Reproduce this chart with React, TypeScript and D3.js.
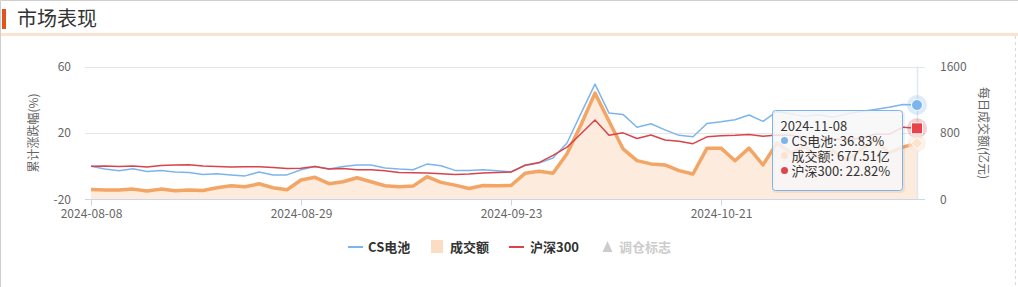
import React from "react";
import * as d3 from "d3";

const dates = [
  "2024-08-08","2024-08-09","2024-08-12","2024-08-13","2024-08-14","2024-08-15","2024-08-16","2024-08-19","2024-08-20","2024-08-21",
  "2024-08-22","2024-08-23","2024-08-26","2024-08-27","2024-08-28","2024-08-29","2024-08-30","2024-09-02","2024-09-03","2024-09-04",
  "2024-09-05","2024-09-06","2024-09-09","2024-09-10","2024-09-11","2024-09-12","2024-09-13","2024-09-18","2024-09-19","2024-09-20",
  "2024-09-23","2024-09-24","2024-09-25","2024-09-26","2024-09-27","2024-09-30","2024-10-08","2024-10-09","2024-10-10","2024-10-11",
  "2024-10-14","2024-10-15","2024-10-16","2024-10-17","2024-10-18","2024-10-21","2024-10-22","2024-10-23","2024-10-24","2024-10-25",
  "2024-10-28","2024-10-29","2024-10-30","2024-10-31","2024-11-01","2024-11-04","2024-11-05","2024-11-06","2024-11-07","2024-11-08",
];

// CS电池 cumulative change (%)
const battery = [
  0, -1.7, -2.7, -1.5, -3.1, -2.5, -3.5, -3.7, -5.0, -4.5,
  -5.2, -5.8, -3.5, -5.2, -5.2, -2.1, -0.1, -1.7, -0.1, 0.7,
  0.7, -1.1, -1.7, -2.1, 1.3, 0.3, -2.5, -2.5, -2.1, -2.7,
  -3.3, 0.5, 1.9, 5.0, 14.0, 31.8, 49.4, 32.0, 31.2, 23.5,
  25.6, 21.9, 18.6, 17.7, 25.7, 26.7, 28.0, 30.8, 27.0, 33.0,
  31.5, 30.0, 31.0, 29.5, 31.5, 33.0, 34.2, 35.5, 37.2, 36.83,
];

// 沪深300 cumulative change (%)
const hs300 = [
  0, 0.1, -0.1, 0.1, -0.5, 0.5, 0.7, 0.9, 0.1, -0.1,
  -0.5, -0.3, -0.3, -0.7, -1.3, -1.2, -0.2, -1.7, -1.3, -2.1,
  -2.1, -2.7, -3.7, -3.9, -4.1, -4.5, -4.9, -4.7, -4.1, -3.7,
  -3.5, 0.6, 2.2, 6.5, 11.5, 19.5, 27.8, 18.7, 20.1, 16.7,
  18.8, 15.8, 15.1, 13.6, 17.7, 18.3, 18.6, 19.1, 18.1, 18.8,
  18.6, 17.4, 16.6, 16.5, 16.0, 17.0, 19.3, 19.2, 23.5, 22.82,
];

// 成交额 (亿元)
const volume = [
  121, 113, 113, 125, 101, 125, 105, 113, 109, 141,
  165, 153, 189, 141, 117, 234, 267, 190, 214, 262,
  214, 165, 153, 161, 274, 206, 173, 133, 169, 165,
  168, 315, 340, 315, 550, 900, 1280, 941, 610, 468,
  428, 416, 347, 307, 618, 618, 466, 618, 416, 680,
  560, 640, 500, 590, 470, 600, 720, 560, 630, 677.51,
];

const xTickLabels = ["2024-08-08", "2024-08-29", "2024-09-23", "2024-10-21"];
const leftTicks = [-20, 20, 60];
const rightTicks = [0, 800, 1600];
const seriesNames = ["CS电池", "成交额", "沪深300", "调仓标志"];

const FONT = "'Noto Sans CJK SC', 'Microsoft YaHei', 'Noto Sans', sans-serif";
const BLUE = "#7cb5ec";
const RED = "#d9434b";
const ORANGE = "#f2a564";
const PEACH = "#fde7d8";

export default function App() {
  const W = 1018, H = 287;
  const plotL = 85, plotR = 925, plotT = 66.5, plotB = 199.5;

  const x = d3.scalePoint<string>().domain(dates).range([91, 917]);
  const yL = d3.scaleLinear().domain([-20, 60]).range([plotB, plotT]);
  const yR = d3.scaleLinear().domain([0, 1600]).range([plotB, plotT]);

  const idx = dates.map((_, i) => i);
  const lineL = (arr: number[]) =>
    d3.line<number>().x((i) => x(dates[i]) as number).y((i) => yL(arr[i]))(idx) || "";
  const volLine = d3.line<number>().x((i) => x(dates[i]) as number).y((i) => yR(volume[i]))(idx) || "";
  const volArea =
    d3.area<number>().x((i) => x(dates[i]) as number).y0(yR(0)).y1((i) => yR(volume[i]))(idx) || "";

  const last = dates.length - 1;
  const lx = x(dates[last]) as number;
  const bY = yL(battery[last]);
  const hY = yL(hs300[last]);
  const vY = yR(volume[last]);

  // tooltip
  const tx = 772.5, ty = 110.5, tw = 130, th = 80;

  return (
    <div style={{ position: "absolute", left: 0, top: 0, width: W, height: H, background: "#fff" }}>
      <svg width={W} height={H} style={{ display: "block", fontFamily: FONT }}>
        <rect x={0} y={0} width={W} height={H} fill="#fff" />
        {/* frame */}
        <line x1={0.5} y1={0.5} x2={W} y2={0.5} stroke="#cfcfcf" />
        <line x1={0.5} y1={0.5} x2={0.5} y2={H} stroke="#cfcfcf" />
        <line x1={1015.5} y1={36} x2={1015.5} y2={H} stroke="#d8d8d8" strokeDasharray="3,3" />
        {/* header */}
        <rect x={2} y={9} width={4} height={20} fill="#e0541e" />
        <text x={17} y={26} fontSize={20} fill="#333">市场表现</text>
        <rect x={1} y={33} width={W - 1} height={3} fill="#fbe3d2" />

        {/* grid */}
        {leftTicks.slice(1).map((t) => (
          <line key={t} x1={plotL} x2={plotR} y1={Math.round(yL(t)) + 0.5} y2={Math.round(yL(t)) + 0.5} stroke="#e6e6e6" />
        ))}

        {/* volume area */}
        <path d={volArea} fill={PEACH} opacity={0.85} />
        <path d={volLine} fill="none" stroke={ORANGE} strokeWidth={3.5} strokeLinejoin="round" />

        {/* lines */}
        <path d={lineL(battery)} fill="none" stroke={BLUE} strokeWidth={1.5} strokeLinejoin="round" />
        <path d={lineL(hs300)} fill="none" stroke={RED} strokeWidth={1.5} strokeLinejoin="round" />

        {/* x axis */}
        <line x1={plotL} x2={plotR} y1={plotB} y2={plotB} stroke="#ccd6eb" />
        {xTickLabels.map((d) => {
          const px = Math.round(x(d) as number) + 0.5;
          return (
            <g key={d}>
              <line x1={px} x2={px} y1={plotB} y2={plotB + 6} stroke="#ccd6eb" />
              <text x={px} y={218} fontSize={12} fill="#666" textAnchor="middle">{d}</text>
            </g>
          );
        })}

        {/* left axis */}
        {leftTicks.map((t) => (
          <text key={t} x={71} y={yL(t) + 4} fontSize={12} fill="#666" textAnchor="end">{t}</text>
        ))}
        <text transform="translate(38,133) rotate(-90)" fontSize={12} fill="#666" textAnchor="middle">累计涨跌幅(%)</text>

        {/* right axis */}
        {rightTicks.map((t) => (
          <text key={t} x={940} y={yR(t) + 4} fontSize={12} fill="#666" textAnchor="start">{t}</text>
        ))}
        <text transform="translate(979,133) rotate(90)" fontSize={12} fill="#666" textAnchor="middle">每日成交额(亿元)</text>

        {/* crosshair */}
        <line x1={lx + 0.5} x2={lx + 0.5} y1={plotT} y2={plotB} stroke="#dfe7f0" strokeWidth={1.5} />

        {/* hover markers */}
        <circle cx={lx} cy={bY} r={10} fill={BLUE} opacity={0.25} />
        <circle cx={lx} cy={bY} r={5.5} fill={BLUE} stroke="#fff" strokeWidth={1} />
        <circle cx={lx} cy={hY} r={10} fill={RED} opacity={0.25} />
        <rect x={lx - 5.5} y={hY - 5.5} width={11} height={11} fill="#e8434a" stroke="#fff" strokeWidth={1} />
        <circle cx={lx} cy={vY} r={9} fill={PEACH} opacity={0.6} />
        <path d={`M${lx},${vY - 6}L${lx + 6},${vY}L${lx},${vY + 6}L${lx - 6},${vY}Z`} fill="#fde3cf" stroke="#fff" strokeWidth={1} />

        {/* tooltip */}
        <rect x={tx + 1} y={ty + 1} width={tw} height={th} rx={3} fill="none" stroke="#000" strokeOpacity={0.06} strokeWidth={3} />
        <rect x={tx} y={ty} width={tw} height={th} rx={3} fill="rgba(247,247,247,0.86)" stroke={BLUE} strokeWidth={1} />
        <text x={tx + 8} y={ty + 20} fontSize={13} fill="#333">{dates[last]}</text>
        <circle cx={tx + 12} cy={ty + 30} r={3.5} fill={BLUE} />
        <text x={tx + 19} y={ty + 35} fontSize={13} fill="#333">{`${seriesNames[0]}: ${battery[last].toFixed(2)}%`}</text>
        <circle cx={tx + 12} cy={ty + 45} r={3.5} fill="#fde3cf" />
        <text x={tx + 19} y={ty + 50} fontSize={13} fill="#333">{`${seriesNames[1]}: ${volume[last].toFixed(2)}亿`}</text>
        <circle cx={tx + 12} cy={ty + 60} r={3.5} fill="#e0454b" />
        <text x={tx + 19} y={ty + 65} fontSize={13} fill="#333">{`${seriesNames[2]}: ${hs300[last].toFixed(2)}%`}</text>

        {/* legend */}
        <line x1={348} x2={363} y1={247} y2={247} stroke={BLUE} strokeWidth={2} />
        <text x={368} y={251.5} fontSize={13} fontWeight="bold" fill="#333">{seriesNames[0]}</text>
        <rect x={431} y={240} width={12} height={13} fill="#fcdcc2" />
        <text x={450} y={251.5} fontSize={13} fontWeight="bold" fill="#333">{seriesNames[1]}</text>
        <line x1={509} x2={524} y1={247} y2={247} stroke={RED} strokeWidth={2} />
        <text x={530} y={251.5} fontSize={13} fontWeight="bold" fill="#333">{seriesNames[2]}</text>
        <path d="M607.5,241L612.5,252L602.5,252Z" fill="#ccc" />
        <text x={619} y={251.5} fontSize={13} fontWeight="bold" fill="#ccc">{seriesNames[3]}</text>
      </svg>
    </div>
  );
}
